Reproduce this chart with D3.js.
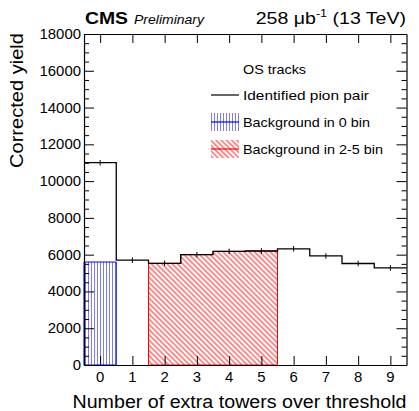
<!DOCTYPE html>
<html>
<head>
<meta charset="utf-8">
<script src="https://cdn.jsdelivr.net/npm/d3@7"></script>
<style>
  html, body { margin: 0; padding: 0; background: #fff; }
  svg { display: block; font-family: "Liberation Sans", Arial, Helvetica, sans-serif; }
</style>
</head>
<body>
<svg id="chart" width="419" height="411"></svg>
<script>
// ---- data ----
const bins = [0, 1, 2, 3, 4, 5, 6, 7, 8, 9];
const pionYield = [11000, 5700, 5530, 6000, 6180, 6200, 6320, 5930, 5520, 5280];
const pionErr = [150, 150, 150, 150, 150, 150, 150, 150, 150, 150];
const bkg0Bins = [0];
const bkg0Vals = [5600];
const bkg25Bins = [2, 3, 4, 5];
const bkg25Vals = [5530, 6000, 6180, 6200];
const yMajorTicks = [0, 2000, 4000, 6000, 8000, 10000, 12000, 14000, 16000, 18000];
const xTickLabels = ["0", "1", "2", "3", "4", "5", "6", "7", "8", "9"];
const legendLabels = ["Identified pion pair", "Background in 0 bin", "Background in 2-5 bin"];

// ---- layout ----
const svg = d3.select("#chart");
const L = 84, R = 406.5, T = 34, B = 365;
const x = d3.scaleLinear().domain([-0.5, 9.5]).range([L, R]);
const y = d3.scaleLinear().domain([0, 18000]).range([B, T]);

const defs = svg.append("defs");
const pb = defs.append("pattern").attr("id", "hatchBlue").attr("patternUnits", "userSpaceOnUse")
  .attr("width", 3).attr("height", 10);
pb.append("line").attr("x1", 1.5).attr("x2", 1.5).attr("y1", 0).attr("y2", 10)
  .attr("stroke", "#2222ff").attr("stroke-width", 0.6);
const pr = defs.append("pattern").attr("id", "hatchRed").attr("patternUnits", "userSpaceOnUse")
  .attr("width", 3.7).attr("height", 10).attr("patternTransform", "rotate(-45)");
pr.append("line").attr("x1", 1.85).attr("x2", 1.85).attr("y1", 0).attr("y2", 10)
  .attr("stroke", "#ff0000").attr("stroke-width", 0.9);

// ---- background fills ----
const gBkg = svg.append("g");
function stepPath(bs, vs) {
  const pts = [[x(bs[0] - 0.5), y(0)]];
  bs.forEach((b, i) => { pts.push([x(b - 0.5), y(vs[i])]); pts.push([x(b + 0.5), y(vs[i])]); });
  pts.push([x(bs[bs.length - 1] + 0.5), y(0)]);
  return d3.line()(pts);
}
gBkg.append("path").attr("d", stepPath(bkg0Bins, bkg0Vals) + "Z")
  .attr("fill", "url(#hatchBlue)").attr("stroke", "#0000ff").attr("stroke-width", 1);
gBkg.append("path").attr("d", stepPath(bkg25Bins, bkg25Vals) + "Z")
  .attr("fill", "url(#hatchRed)").attr("stroke", "#ff0000").attr("stroke-width", 1);

// ---- pion histogram ----
const hpts = [];
bins.forEach((b, i) => { hpts.push([x(b - 0.5), y(pionYield[i])]); hpts.push([x(b + 0.5), y(pionYield[i])]); });
svg.append("path").attr("d", d3.line()(hpts)).attr("fill", "none")
  .attr("stroke", "#000").attr("stroke-width", 1.3);
svg.append("g").selectAll("line").data(bins).join("line")
  .attr("x1", d => x(d)).attr("x2", d => x(d))
  .attr("y1", (d, i) => y(pionYield[i] - pionErr[i]))
  .attr("y2", (d, i) => y(pionYield[i] + pionErr[i]))
  .attr("stroke", "#000").attr("stroke-width", 1);

// ---- axes ----
const minor = d3.range(0, 18001, 500).filter(v => v % 2000 !== 0);
function styleAxis(g) { g.select(".domain").attr("stroke", "#000").attr("stroke-width", 1.2); g.selectAll(".tick line").attr("stroke", "#000").attr("stroke-width", 1); }
svg.append("g").attr("transform", `translate(${L},0)`)
  .call(d3.axisLeft(y).tickValues(yMajorTicks).tickSize(-10).tickSizeOuter(0).tickFormat(""))
  .call(styleAxis);
svg.append("g").attr("transform", `translate(${L},0)`)
  .call(d3.axisLeft(y).tickValues(minor).tickSize(-5).tickFormat("")).call(g => g.select(".domain").remove())
  .call(styleAxis);
svg.append("g").attr("transform", `translate(${R},0)`)
  .call(d3.axisRight(y).tickValues(yMajorTicks).tickSize(-10).tickSizeOuter(0).tickFormat(""))
  .call(styleAxis);
svg.append("g").attr("transform", `translate(${R},0)`)
  .call(d3.axisRight(y).tickValues(minor).tickSize(-5).tickFormat("")).call(g => g.select(".domain").remove())
  .call(styleAxis);
svg.append("g").attr("transform", `translate(0,${B})`)
  .call(d3.axisBottom(x).tickValues(bins).tickSize(-9).tickSizeOuter(0).tickFormat(""))
  .call(styleAxis);
svg.append("g").attr("transform", `translate(0,${T})`)
  .call(d3.axisTop(x).tickValues(bins).tickSize(-9).tickSizeOuter(0).tickFormat(""))
  .call(styleAxis);

// tick labels
svg.append("g").selectAll("text").data(yMajorTicks).join("text")
  .attr("x", L - 3).attr("y", d => y(d) + 5).attr("text-anchor", "end")
  .attr("font-size", 14).attr("textLength", d => String(d).length * 8.3)
  .attr("lengthAdjust", "spacingAndGlyphs").text(d => d);
svg.append("g").selectAll("text").data(bins).join("text")
  .attr("x", d => x(d)).attr("y", B + 17).attr("text-anchor", "middle")
  .attr("font-size", 14).attr("textLength", 8.3).attr("lengthAdjust", "spacingAndGlyphs")
  .text((d, i) => xTickLabels[i]);

// axis titles
svg.append("text").attr("transform", `translate(23,33) rotate(-90)`).attr("text-anchor", "end")
  .attr("font-size", 17.5).attr("textLength", 135).attr("lengthAdjust", "spacingAndGlyphs")
  .text("Corrected yield");
svg.append("text").attr("x", 406.5).attr("y", 408).attr("text-anchor", "end")
  .attr("font-size", 17.5).attr("textLength", 334).attr("lengthAdjust", "spacingAndGlyphs")
  .text("Number of extra towers over threshold");

// header
svg.append("text").attr("x", 85).attr("y", 24).attr("font-size", 16.5).attr("font-weight", "bold")
  .attr("textLength", 43).attr("lengthAdjust", "spacingAndGlyphs").text("CMS");
svg.append("text").attr("x", 134).attr("y", 24).attr("font-size", 13).attr("font-style", "italic")
  .attr("textLength", 70).attr("lengthAdjust", "spacingAndGlyphs").text("Preliminary");
const lumi = svg.append("g").attr("transform", "translate(406,24) scale(1.15,1)");
const lt = lumi.append("text").attr("x", 0).attr("y", 0).attr("text-anchor", "end").attr("font-size", 17);
lt.append("tspan").text("258 \u03BCb");
lt.append("tspan").attr("font-size", 11).attr("dy", -7).text("-1");
lt.append("tspan").attr("dy", 7).text(" (13 TeV)");

// legend
const lg = svg.append("g");
lg.append("text").attr("x", 243).attr("y", 74).attr("font-size", 13.5)
  .attr("textLength", 63).attr("lengthAdjust", "spacingAndGlyphs").text("OS tracks");
const rowY = [95, 122, 149];
const legLen = [126, 127, 140];
lg.append("line").attr("x1", 211).attr("x2", 239).attr("y1", rowY[0]).attr("y2", rowY[0]).attr("stroke", "#000").attr("stroke-width", 1.2);
lg.append("rect").attr("x", 211).attr("y", rowY[1] - 9).attr("width", 28).attr("height", 18).attr("fill", "url(#hatchBlue)");
lg.append("line").attr("x1", 211).attr("x2", 239).attr("y1", rowY[1]).attr("y2", rowY[1]).attr("stroke", "#0000ff").attr("stroke-width", 1.2);
lg.append("rect").attr("x", 211).attr("y", rowY[2] - 9).attr("width", 28).attr("height", 18).attr("fill", "url(#hatchRed)");
lg.append("line").attr("x1", 211).attr("x2", 239).attr("y1", rowY[2]).attr("y2", rowY[2]).attr("stroke", "#ff0000").attr("stroke-width", 1.2);
lg.selectAll("text.lab").data(legendLabels).join("text").attr("class", "lab")
  .attr("x", 243).attr("y", (d, i) => rowY[i] + 5).attr("font-size", 13.5)
  .attr("textLength", (d, i) => legLen[i]).attr("lengthAdjust", "spacingAndGlyphs").text(d => d);
</script>
</body>
</html>
